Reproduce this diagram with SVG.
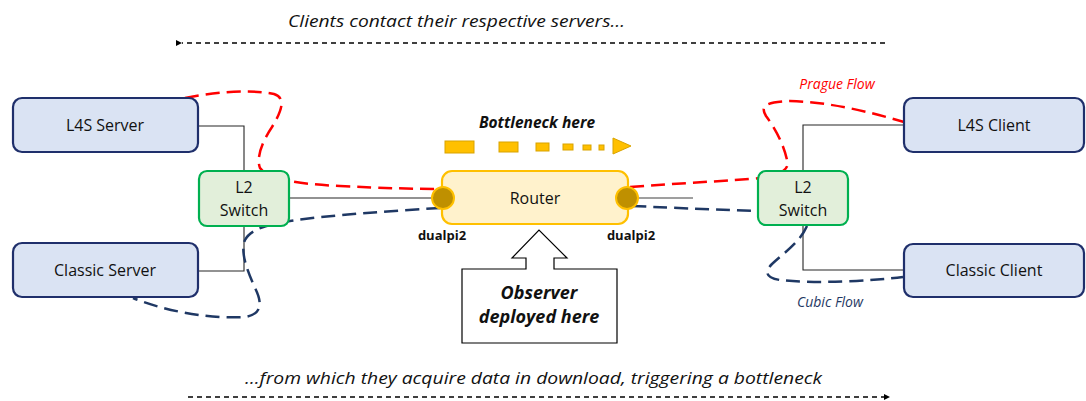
<svg xmlns="http://www.w3.org/2000/svg" width="1086" height="401" viewBox="0 0 1086 401">
  <style>
    text { font-family: "Open Sans", "Noto Sans", "Liberation Sans", sans-serif; fill: #111; }
    .host { fill: #DAE3F3; stroke: #1F2F6B; stroke-width: 2.2; }
    .sw { fill: #E2EFDA; stroke: #00B050; stroke-width: 2.2; }
    .lbl { font-size: 16px; text-anchor: middle; }
    .wire { fill: none; stroke: #262626; stroke-width: 1.1; }
    .prague { fill: none; stroke: #FF0000; stroke-width: 2.5; stroke-dasharray: 14 7; }
    .cubic { fill: none; stroke: #1F3864; stroke-width: 2.5; stroke-dasharray: 14 7; }
    .cap { font-size: 17px; font-style: italic; }
    .dir { fill: none; stroke: #000; stroke-width: 1.4; stroke-dasharray: 5 4; }
    .port { fill: #BF9000; stroke: #FFC000; stroke-width: 2; }
    .bn { fill: #FFC000; stroke: #D9A300; stroke-width: 1; }
    .bold { font-weight: bold; }
  </style>
  <defs>
    <marker id="arrowL" markerWidth="8" markerHeight="8" refX="1" refY="4" orient="auto" markerUnits="userSpaceOnUse">
      <path d="M7,1 L1,4 L7,7 Z" fill="#000"/>
    </marker>
    <marker id="arrowR" markerWidth="8" markerHeight="8" refX="7" refY="4" orient="auto" markerUnits="userSpaceOnUse">
      <path d="M1,1 L7,4 L1,7 Z" fill="#000"/>
    </marker>
  </defs>

  <!-- direction captions -->
  <g id="top-caption">
    <text class="cap" x="288" y="27" textLength="337" lengthAdjust="spacingAndGlyphs">Clients contact their respective servers…</text>
    <line class="dir" x1="885" y1="43" x2="182" y2="43" marker-end="url(#arrowL)"/>
  </g>
  <g id="bottom-caption">
    <text class="cap" x="245" y="384" textLength="577" lengthAdjust="spacingAndGlyphs">…from which they acquire data in download, triggering a bottleneck</text>
    <line class="dir" x1="188" y1="397" x2="890" y2="397" marker-end="url(#arrowR)"/>
  </g>

  <!-- connectors -->
  <g id="connectors">
    <polyline class="wire" points="198,126 244,126 244,171"/>
    <polyline class="wire" points="198,271 244,271 244,226"/>
    <line class="wire" x1="289" y1="198" x2="442" y2="198"/>
    <line x1="628" y1="198" x2="693" y2="198" stroke="#7F7F7F" stroke-width="1.3"/>
    <polyline class="wire" points="904,125 803,125 803,171"/>
    <polyline class="wire" points="904,270 803,270 803,225"/>

    <!-- Prague flow (left) -->
    <path class="prague" d="M185,98 C215,92 250,89 274,94 C287,98 281,112 272,127 C262,142 256,158 260,168 C268,180 300,184 340,186 C380,188 415,189 440,189"/>
    <!-- Prague flow (right) -->
    <path class="prague" d="M630,187 C680,183 730,181 760,178 C783,175 790,168 787,160 C784,145 775,128 766,116 C760,106 765,102 790,101 C830,102 870,112 904,122"/>
    <!-- Cubic flow (left) -->
    <path class="cubic" d="M440,208 C390,211 330,215 290,221 C265,225 250,230 245,240 C240,252 247,270 255,288 C262,302 263,314 245,317 C215,319 170,313 133,298"/>
    <!-- Cubic flow (right) -->
    <path class="cubic" d="M632,206 C680,208 720,210 760,211 M807,226 C800,242 785,252 772,264 C764,272 766,278 780,280 C820,284 870,281 903,277"/>
  </g>

  <!-- hosts -->
  <g id="l4s-server">
    <rect class="host" x="13" y="98" width="185" height="54" rx="9"/>
    <text class="lbl" x="105" y="131">L4S Server</text>
  </g>
  <g id="classic-server">
    <rect class="host" x="13" y="243" width="185" height="54" rx="9"/>
    <text class="lbl" x="105" y="276">Classic Server</text>
  </g>
  <g id="l4s-client">
    <rect class="host" x="904" y="98" width="180" height="54" rx="9"/>
    <text class="lbl" x="994" y="131">L4S Client</text>
  </g>
  <g id="classic-client">
    <rect class="host" x="904" y="244" width="180" height="53" rx="9"/>
    <text class="lbl" x="994" y="276">Classic Client</text>
  </g>

  <!-- switches -->
  <g id="switch-left">
    <rect class="sw" x="199" y="171" width="90" height="55" rx="8"/>
    <text class="lbl" x="244" y="193">L2</text>
    <text class="lbl" x="244" y="216">Switch</text>
  </g>
  <g id="switch-right">
    <rect class="sw" x="758" y="171" width="90" height="54" rx="8"/>
    <text class="lbl" x="803" y="193">L2</text>
    <text class="lbl" x="803" y="216">Switch</text>
  </g>

  <!-- router with AQM ports -->
  <g id="router">
    <rect x="442" y="171" width="186" height="53" rx="10" fill="#FFF2CC" stroke="#FFC000" stroke-width="2.2"/>
    <text class="lbl" x="535" y="204">Router</text>
    <circle class="port" cx="443" cy="198" r="11"/>
    <circle class="port" cx="627" cy="198" r="11"/>
    <text class="bold" x="442" y="240" font-size="13" text-anchor="middle">dualpi2</text>
    <text class="bold" x="631" y="240" font-size="13" text-anchor="middle">dualpi2</text>
  </g>

  <!-- bottleneck indicator -->
  <g id="bottleneck">
    <text class="bold" x="537" y="128" font-size="15.5" font-style="italic" text-anchor="middle">Bottleneck here</text>
    <rect class="bn" x="445" y="141" width="29" height="12"/>
    <rect class="bn" x="499" y="142" width="19" height="10"/>
    <rect class="bn" x="536" y="143" width="13" height="8"/>
    <rect class="bn" x="563" y="144" width="10" height="6"/>
    <rect class="bn" x="583" y="145" width="8" height="5"/>
    <rect class="bn" x="599" y="145" width="5" height="5"/>
    <polygon class="bn" points="613,138 631,146 613,154"/>
  </g>

  <!-- observer callout -->
  <g id="observer">
    <path d="M462,269 L526,269 L526,258 L512,258 L539,230 L567,258 L554,258 L554,269 L617,269 L617,343 L462,343 Z" fill="#fff" stroke="#000" stroke-width="1.2"/>
    <text class="bold" x="539" y="299" font-size="18" font-style="italic" text-anchor="middle">Observer</text>
    <text class="bold" x="539" y="323" font-size="18" font-style="italic" text-anchor="middle">deployed here</text>
  </g>

  <!-- flow labels -->
  <g id="flow-labels">
    <text x="837" y="89" font-size="14" font-style="italic" style="fill:#FF0000" text-anchor="middle">Prague Flow</text>
    <text x="830" y="307" font-size="14" font-style="italic" style="fill:#1F3864" text-anchor="middle">Cubic Flow</text>
  </g>
</svg>
